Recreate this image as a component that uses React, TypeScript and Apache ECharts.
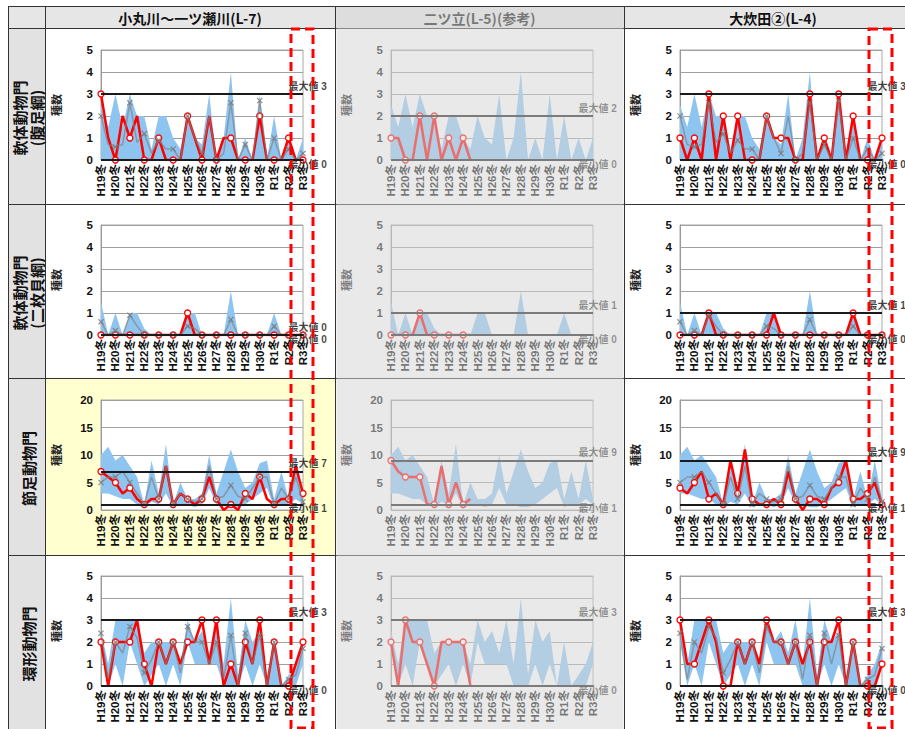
import React, { useEffect, useRef } from "react";
import * as echarts from "echarts";

// Survey occasions (winter / summer); only the winter ones carry a label.
const CATEGORIES = [
  "H19冬", "H20夏", "H20冬", "H21夏", "H21冬", "H22夏", "H22冬", "H23夏", "H23冬",
  "H24夏", "H24冬", "H25夏", "H25冬", "H26夏", "H26冬", "H27夏", "H27冬", "H28夏",
  "H28冬", "H29夏", "H29冬", "H30夏", "H30冬", "R1夏", "R1冬", "R2夏", "R2冬", "R3夏", "R3冬",
];

const COLUMN_TITLES = ["小丸川～一ツ瀬川(L-7)", "二ツ立(L-5)(参考)", "大炊田②(L-4)"];
const ROW_TITLES = [
  ["軟体動物門", "(腹足綱)"],
  ["軟体動物門", "(二枚貝綱)"],
  ["節足動物門"],
  ["環形動物門"],
];
const Y_AXIS_NAME = "種数";
const Y_MAX = [5, 5, 20, 5];
const Y_INTERVAL = [1, 1, 5, 1];

// 軟体動物門(腹足綱)
const RANGE_MAX_1 = [2.5, 1.5, 3, 1.5, 3, 2, 2, 0.5, 2, 2, 1, 0.5, 2, 1, 0.7, 3, 0, 1, 4, 0, 1, 0, 3, 0, 2, 0, 1, 0, 1];
const RANGE_MIN_1 = [0, 0, 0, 0, 0, 0, 0, 0, 0, 0, 0, 0, 0, 0, 0, 0, 0, 0, 0, 0, 0, 0, 0, 0, 0, 0, 0, 0, 0];
const AVG_1 = [2, 0.7, 0.6, 0.7, 2.6, 0.8, 1.2, 0.3, 0.9, 0.5, 0.5, 0, 2, 1, 0.3, 2, 0, 0.3, 2.6, 0, 0.7, 0, 2.7, 0, 1, 0, 0.5, 0, 0.3];
const L7_1 = [3, 1, 0, 2, 1, 2, 0, 0, 1, 0, 0, 0, 2, 1, 0, 2, 0, 1, 1, 0, 0, 0, 2, 0, 0, 0, 1, 0, 0];
const L5_1 = [1, 1, 0, 0, 2, 0, 2, 0, 1, 0, 1, 0];
const L4_1 = [1, 0, 1, 0, 3, 0, 2, 0, 2, 0, 0, 0, 2, 1, 1, 1, 0, 0, 3, 0, 1, 0, 3, 0, 2, 0, 0, 0, 1];

// 軟体動物門(二枚貝綱)
const RANGE_MAX_2 = [1.5, 0, 1, 0, 1, 1, 0.3, 0, 0, 0, 0, 0, 1, 1, 0, 0, 0, 0, 2, 0, 0, 0, 0, 0, 1, 0, 0, 0, 0];
const RANGE_MIN_2 = [0, 0, 0, 0, 0, 0, 0, 0, 0, 0, 0, 0, 0, 0, 0, 0, 0, 0, 0, 0, 0, 0, 0, 0, 0, 0, 0, 0, 0];
const AVG_2 = [0.6, 0, 0.2, 0, 0.9, 0.4, 0, 0, 0, 0, 0, 0, 0.4, 0.3, 0, 0, 0, 0, 0.7, 0, 0, 0, 0, 0, 0.4, 0, 0, 0, 0];
const L7_2 = [0, 0, 0, 0, 0, 0, 0, 0, 0, 0, 0, 0, 1, 0, 0, 0, 0, 0, 0, 0, 0, 0, 0, 0, 0, 0, 0, 0, 0];
const L5_2 = [0, 0, 0, 0, 1, 0, 0, 0, 0, 0, 0, 0];
const L4_2 = [0, 0, 0, 0, 1, 0, 0, 0, 0, 0, 0, 0, 0, 1, 0, 0, 0, 0, 0, 0, 0, 0, 0, 0, 1, 0, 0, 0, 0];

// 節足動物門
const RANGE_MAX_3 = [10, 11.5, 9, 10, 8, 6, 1, 9, 3, 12, 1, 5, 2, 2, 3, 10, 3, 7, 11, 7, 4, 5, 8.5, 9, 2, 7, 2, 9, 2];
const RANGE_MIN_3 = [3, 3, 2.5, 2, 2, 1, 0.5, 1.5, 1, 3, 0.5, 1, 1, 0.5, 1, 4, 1, 1, 0.5, 0.5, 1, 2, 3, 4, 0.5, 1, 1, 2, 1];
const AVG_3 = [5, 6, 6, 7, 5, 3, 1, 6, 2, 8, 1, 3, 2, 1.5, 2, 8, 2, 2.5, 4.5, 2.5, 2, 4, 6, 6, 1, 4, 2, 6, 1.5];
const L7_3 = [7, 6, 5, 3, 4, 2, 1, 2, 2, 8, 1, 3, 2, 1, 2, 6, 2, 0, 1, 0, 3, 2, 6, 2, 1, 2, 2, 8, 3];
const L5_3 = [9, 7, 6, 6, 6, 1, 1, 8, 1, 5, 1, 2];
const L4_3 = [4, 3, 5, 7, 2, 3, 1, 9, 3, 11, 2, 1, 1, 2, 1, 7, 2, 0, 2, 2, 1, 4, 5, 9, 2, 2, 3, 5, 1];

// 環形動物門
const RANGE_MAX_4 = [2.5, 1, 3, 3, 3, 3, 1.5, 2, 2, 2, 2, 1, 3, 2, 2.5, 1.5, 3, 1, 4, 0.5, 3, 2, 2.5, 0, 2, 0, 0.5, 1, 2];
const RANGE_MIN_4 = [2, 0, 1, 0, 2, 1, 0, 0.5, 1, 0, 1, 0, 2, 1, 1, 1, 1, 0, 0, 0, 1, 0, 1, 0, 0, 0, 0, 0, 1];
const AVG_4 = [2.4, 0.3, 2, 1.5, 2.7, 2.2, 0.6, 1.2, 2, 1, 2, 0.6, 2.7, 2, 2, 1, 2, 0.3, 2.3, 0, 2.4, 1, 2.3, 0, 2, 0, 0.3, 0.5, 1.7];
const L7_4 = [2, 0, 2, 2, 2, 3, 1, 0, 2, 1, 2, 1, 2, 2, 3, 1, 3, 0, 1, 0, 2, 1, 3, 0, 2, 0, 0, 1, 2];
const L5_4 = [2, 0, 3, 2, 2, 1, 0, 2, 2, 2, 2, 0];
const L4_4 = [3, 1, 1, 2, 3, 2, 0, 0, 2, 1, 2, 1, 3, 2, 2, 1, 2, 1, 2, 0, 2, 2, 3, 0, 2, 0, 0, 0, 1];

// 最大値 / 最小値 for each station (L-7, L-5, L-4)
const MAX_VALUES = [[3, 2, 3], [0, 1, 1], [7, 9, 9], [3, 3, 3]];
const MIN_VALUES = [[0, 0, 0], [0, 0, 0], [1, 1, 1], [0, 0, 0]];

const RANGE_MAX = [RANGE_MAX_1, RANGE_MAX_2, RANGE_MAX_3, RANGE_MAX_4];
const RANGE_MIN = [RANGE_MIN_1, RANGE_MIN_2, RANGE_MIN_3, RANGE_MIN_4];
const AVERAGES = [AVG_1, AVG_2, AVG_3, AVG_4];
const OBSERVED = [
  [L7_1, L5_1, L4_1],
  [L7_2, L5_2, L4_2],
  [L7_3, L5_3, L4_3],
  [L7_4, L5_4, L4_4],
];

// Layout of the table and plot areas
const FONT = '"Liberation Sans", "Noto Sans CJK JP", sans-serif';
const CJK = '"Noto Sans CJK JP", sans-serif';
const PLOT_LEFT = [101, 391, 680];
const PLOT_TOP = [50, 225, 400, 576];
const PLOT_W = 202;
const PLOT_H = 110;
const COL_X = [8, 45, 335, 624, 905];
const ROW_Y = [6, 28, 204, 378, 555, 729];

const BLUE = "rgb(142,196,240)";
const RED = "#ff0000";
const X_MARK =
  "path://M0,1.4L1.4,0L5,3.6L8.6,0L10,1.4L6.4,5L10,8.6L8.6,10L5,6.4L1.4,10L0,8.6L3.6,5Z";

function buildOption() {
  const grid: any[] = [];
  const xAxis: any[] = [];
  const yAxis: any[] = [];
  const series: any[] = [];
  const last = CATEGORIES.length - 1;

  for (let r = 0; r < 4; r++) {
    for (let c = 0; c < 3; c++) {
      const g = r * 3 + c;
      grid.push({
        left: PLOT_LEFT[c],
        top: PLOT_TOP[r],
        width: PLOT_W,
        height: PLOT_H,
        show: true,
        backgroundColor: "#ffffff",
        borderColor: "#a8a8a8",
        borderWidth: 1,
      });
      xAxis.push({
        type: "category",
        gridIndex: g,
        data: CATEGORIES,
        boundaryGap: false,
        axisLine: { show: false },
        axisTick: { show: false },
        axisLabel: {
          interval: 1,
          rotate: 90,
          margin: 4,
          fontSize: 11.5,
          fontWeight: "bold",
          color: "#111",
          fontFamily: FONT,
        },
      });
      yAxis.push({
        type: "value",
        gridIndex: g,
        min: 0,
        max: Y_MAX[r],
        interval: Y_INTERVAL[r],
        axisLine: { show: true, lineStyle: { color: "#999" } },
        axisTick: { show: false },
        splitLine: { lineStyle: { color: "#a0a0a0", width: 1 } },
        axisLabel: {
          margin: 8,
          fontSize: 11.5,
          fontWeight: "bold",
          color: "#111",
          fontFamily: FONT,
        },
        name: Y_AXIS_NAME,
        nameLocation: "middle",
        nameGap: 40,
        nameRotate: 90,
        nameTextStyle: { fontSize: 11, fontWeight: "bold", color: "#222", fontFamily: CJK },
      });

      const lo = RANGE_MIN[r];
      const hi = RANGE_MAX[r];
      // Historical range drawn as a stacked band
      series.push({
        type: "line",
        xAxisIndex: g,
        yAxisIndex: g,
        stack: "band" + g,
        data: lo,
        symbol: "none",
        silent: true,
        lineStyle: { opacity: 0 },
        z: 1,
      });
      series.push({
        type: "line",
        xAxisIndex: g,
        yAxisIndex: g,
        stack: "band" + g,
        data: hi.map((v, i) => v - lo[i]),
        symbol: "none",
        silent: true,
        lineStyle: { opacity: 0 },
        areaStyle: { color: BLUE, opacity: 1 },
        z: 1,
      });

      const maxV = MAX_VALUES[r][c];
      const minV = MIN_VALUES[r][c];
      const obs = OBSERVED[r][c];
      series.push({
        type: "line",
        xAxisIndex: g,
        yAxisIndex: g,
        data: CATEGORIES.map((_, i) => (i < obs.length ? obs[i] : null)),
        symbol: "circle",
        symbolSize: 6,
        itemStyle: { color: "#ffffff", borderColor: RED, borderWidth: 1.3 },
        lineStyle: { color: RED, width: 2.5 },
        z: 3,
        markLine: {
          silent: true,
          symbol: ["none", "none"],
          label: { show: false },
          lineStyle: { color: "#1a1a1a", width: 2, type: "solid" },
          data: [{ yAxis: maxV }, { yAxis: minV }],
        },
      });

      if (c !== 1) {
        series.push({
          type: "line",
          xAxisIndex: g,
          yAxisIndex: g,
          data: AVERAGES[r],
          symbol: X_MARK,
          symbolSize: 6,
          itemStyle: { color: "#7a7a7a", opacity: 0.85 },
          lineStyle: { color: "#7f7f7f", width: 1.5, opacity: 0.65 },
          z: 4,
        });
      }

      series.push({
        type: "scatter",
        xAxisIndex: g,
        yAxisIndex: g,
        silent: true,
        symbolSize: 1,
        itemStyle: { color: "rgba(0,0,0,0)" },
        label: {
          show: true,
          position: "right",
          fontSize: 10,
          fontWeight: "bold",
          color: "#111",
          fontFamily: FONT,
        },
        data: [
          { value: [last, maxV], label: { formatter: "最大値 " + maxV, offset: [-20, -8] } },
          { value: [last, minV], label: { formatter: "最小値 " + minV, offset: [-20, 4] } },
        ],
        z: 6,
      });
    }
  }

  const graphic: any[] = [];
  // cell backgrounds
  graphic.push({
    type: "rect",
    z: -10,
    shape: { x: COL_X[0], y: ROW_Y[0], width: 905 - COL_X[0], height: ROW_Y[1] - ROW_Y[0] },
    style: { fill: "#e6e6e6" },
  });
  graphic.push({
    type: "rect",
    z: -10,
    shape: { x: COL_X[0], y: ROW_Y[1], width: COL_X[1] - COL_X[0], height: 729 - ROW_Y[1] },
    style: { fill: "#e2e2e2" },
  });
  graphic.push({
    type: "rect",
    z: -10,
    shape: { x: COL_X[1], y: ROW_Y[3], width: COL_X[2] - COL_X[1], height: ROW_Y[4] - ROW_Y[3] },
    style: { fill: "#ffffd0" },
  });
  // table rules
  for (const y of ROW_Y.slice(0, 5)) {
    graphic.push({
      type: "line",
      z: 50,
      shape: { x1: COL_X[0], y1: y + 0.5, x2: 905, y2: y + 0.5 },
      style: { stroke: "#333", lineWidth: 1 },
    });
  }
  for (const x of COL_X.slice(0, 4)) {
    graphic.push({
      type: "line",
      z: 50,
      shape: { x1: x + 0.5, y1: ROW_Y[0], x2: x + 0.5, y2: 729 },
      style: { stroke: "#333", lineWidth: 1 },
    });
  }
  // column titles
  COLUMN_TITLES.forEach((t, c) => {
    const cx = c < 2 ? (COL_X[c + 1] + COL_X[c + 2]) / 2 : 773;
    graphic.push({
      type: "text",
      z: 20,
      x: cx,
      y: (ROW_Y[0] + ROW_Y[1]) / 2 + 1,
      style: {
        text: t,
        fill: "#111",
        font: "bold 14px " + CJK,
        align: "center",
        verticalAlign: "middle",
      },
    });
  });
  // row titles, rotated
  ROW_TITLES.forEach((lines, r) => {
    graphic.push({
      type: "text",
      z: 20,
      x: 28,
      y: (ROW_Y[r + 1] + ROW_Y[r + 2]) / 2 + 2,
      rotation: Math.PI / 2,
      style: {
        text: lines.join("\n"),
        fill: "#111",
        font: "bold 15px " + CJK,
        lineHeight: 17,
        align: "center",
        verticalAlign: "middle",
      },
    });
  });
  // reference station column is greyed out
  graphic.push({
    type: "rect",
    z: 100,
    shape: { x: COL_X[2] + 1.5, y: ROW_Y[0] + 1, width: COL_X[3] - COL_X[2] - 2, height: 729 - ROW_Y[0] },
    style: { fill: "rgba(212,212,212,0.52)" },
  });
  // highlight of the latest survey (R3冬)
  const boxes = [
    { x: PLOT_LEFT[0] + PLOT_W - 12, w: 22 },
    { x: PLOT_LEFT[2] + PLOT_W - 13, w: 23 },
  ];
  for (const b of boxes) {
    graphic.push({
      type: "rect",
      z: 120,
      shape: { x: b.x, y: ROW_Y[1] + 1, width: b.w, height: 699 },
      style: { fill: "none", stroke: RED, lineWidth: 3, lineDash: [9, 5] },
    });
  }

  return {
    animation: false,
    backgroundColor: "#ffffff",
    grid,
    xAxis,
    yAxis,
    series,
    graphic,
  };
}

export default function App() {
  const ref = useRef<HTMLDivElement>(null);
  useEffect(() => {
    if (!ref.current) return;
    const chart = echarts.init(ref.current, undefined, { renderer: "svg" });
    chart.setOption(buildOption() as any);
    return () => chart.dispose();
  }, []);
  return (
    <div
      ref={ref}
      style={{ position: "absolute", left: 0, top: 0, width: 905, height: 729 }}
    />
  );
}
